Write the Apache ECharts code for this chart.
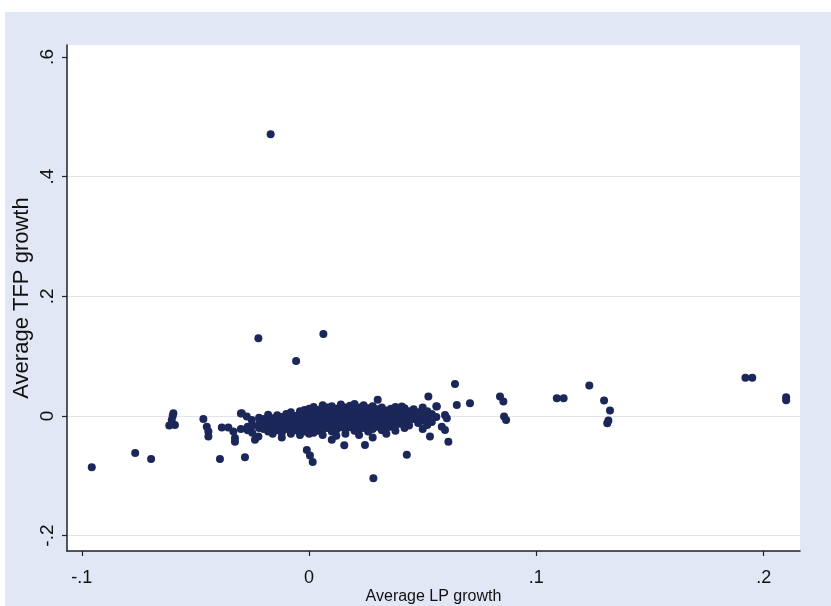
<!DOCTYPE html>
<html>
<head>
<meta charset="utf-8">
<script src="https://cdn.jsdelivr.net/npm/echarts@6/dist/echarts.min.js"></script>
<style>
  html, body { margin: 0; padding: 0; background: #ffffff; width: 831px; height: 606px; overflow: hidden; }
  #frame { position: absolute; left: 5px; top: 12px; width: 826px; height: 594px; background: #e2e7f5; }
  #chart { width: 826px; height: 594px; }
</style>
</head>
<body>
<div id="frame"><div id="chart"></div></div>
<script>
// Tick values
const xTicks = [-0.1, 0, 0.1, 0.2];
const yTicks = [-0.2, 0, 0.2, 0.4, 0.6];
const yGridLines = [-0.2, 0, 0.2, 0.4];

// Outlying / edge observations [LP growth, TFP growth]
const outerPoints = [
  [-0.0956,-0.086],[-0.0765,-0.062],[-0.0695,-0.072],
  [-0.0597,0.0045],[-0.0604,-0.0067],[-0.059,-0.015],[-0.0615,-0.016],[-0.060,0.000],
  [-0.0465,-0.005],[-0.045,-0.018],[-0.0443,-0.026],[-0.0443,-0.0346],
  [-0.0392,-0.072],[-0.0282,-0.069],
  [-0.0384,-0.0195],[-0.0355,-0.0195],[-0.0333,-0.026],[-0.0326,-0.037],[-0.0326,-0.043],
  [-0.0238,-0.040],[-0.0223,-0.0346],
  [-0.0296,0.0045],[-0.0274,-0.001],[-0.0252,-0.0067],
  [-0.001,-0.057],[0.0004,-0.066],[0.0016,-0.077],
  [0.010,-0.040],[0.0155,-0.049],[0.0246,-0.0485],[0.043,-0.065],[0.0283,-0.104],
  [0.0302,0.027],[0.0408,0.0156],[0.0436,-0.003],
  [0.0525,0.0323],[0.0562,0.0156],[0.0598,0.0017],[0.0606,-0.0039],[0.0584,-0.018],
  [0.0598,-0.0234],[0.0532,-0.0346],[0.0613,-0.043],
  [0.0642,0.0535],[0.065,0.0184],[0.0708,0.0212],
  [0.084,0.0323],[0.0855,0.024],[0.0858,-0.001],[0.0867,-0.0067],
  [0.109,0.0296],[0.112,0.0296],
  [0.1233,0.0507],[0.1298,0.0256],[0.1324,0.0089],[0.1317,-0.0078],[0.1312,-0.0122],
  [0.192,0.064],[0.195,0.064],
  [0.2099,0.031],[0.2099,0.026],
  [-0.0169,0.471],[-0.0223,0.13],[0.0063,0.137],[-0.0057,0.092]
];

// Dense central cluster [LP growth, TFP growth]
const clusterPoints = [
  [-0.030,0.004],[-0.030,-0.022],
  [-0.027,-0.018],[-0.027,-0.024],
  [-0.025,-0.016],[-0.025,-0.028],
  [-0.022,-0.003],[-0.022,-0.014],[-0.022,-0.020],
  [-0.020,-0.005],[-0.020,-0.012],[-0.020,-0.022],
  [-0.018,0.002],[-0.018,-0.010],[-0.018,-0.017],[-0.018,-0.026],
  [-0.016,-0.004],[-0.016,-0.013],[-0.016,-0.021],[-0.016,-0.030],
  [-0.014,0.001],[-0.014,-0.008],[-0.014,-0.016],[-0.014,-0.024],
  [-0.012,-0.002],[-0.012,-0.011],[-0.012,-0.019],[-0.012,-0.028],[-0.012,-0.036],
  [-0.010,0.003],[-0.010,-0.006],[-0.010,-0.014],[-0.010,-0.022],
  [-0.008,0.006],[-0.008,-0.003],[-0.008,-0.010],[-0.008,-0.018],[-0.008,-0.030],
  [-0.006,0.000],[-0.006,-0.008],[-0.006,-0.015],[-0.006,-0.024],
  [-0.004,0.008],[-0.004,0.002],[-0.004,-0.005],[-0.004,-0.012],[-0.004,-0.020],[-0.004,-0.032],
  [-0.002,0.010],[-0.002,0.004],[-0.002,-0.003],[-0.002,-0.009],[-0.002,-0.017],[-0.002,-0.026],
  [0.000,0.012],[0.000,0.005],[0.000,-0.001],[0.000,-0.007],[0.000,-0.014],[0.000,-0.022],[0.000,-0.030],
  [0.002,0.015],[0.002,0.008],[0.002,0.001],[0.002,-0.005],[0.002,-0.012],[0.002,-0.019],[0.002,-0.028],
  [0.004,0.010],[0.004,0.003],[0.004,-0.004],[0.004,-0.010],[0.004,-0.017],[0.004,-0.025],
  [0.006,0.018],[0.006,0.012],[0.006,0.005],[0.006,-0.002],[0.006,-0.008],[0.006,-0.015],[0.006,-0.022],[0.006,-0.032],
  [0.008,0.014],[0.008,0.007],[0.008,0.000],[0.008,-0.006],[0.008,-0.013],[0.008,-0.020],
  [0.010,0.016],[0.010,0.009],[0.010,0.002],[0.010,-0.004],[0.010,-0.011],[0.010,-0.018],[0.010,-0.026],
  [0.012,0.012],[0.012,0.005],[0.012,-0.001],[0.012,-0.008],[0.012,-0.015],[0.012,-0.023],[0.012,-0.033],
  [0.014,0.019],[0.014,0.010],[0.014,0.003],[0.014,-0.004],[0.014,-0.011],[0.014,-0.019],
  [0.016,0.014],[0.016,0.007],[0.016,0.000],[0.016,-0.007],[0.016,-0.014],[0.016,-0.022],[0.016,-0.030],
  [0.018,0.017],[0.018,0.009],[0.018,0.002],[0.018,-0.005],[0.018,-0.012],[0.018,-0.019],
  [0.020,0.020],[0.020,0.012],[0.020,0.004],[0.020,-0.003],[0.020,-0.010],[0.020,-0.017],[0.020,-0.025],
  [0.022,0.014],[0.022,0.006],[0.022,-0.001],[0.022,-0.008],[0.022,-0.015],[0.022,-0.022],[0.022,-0.032],
  [0.024,0.018],[0.024,0.009],[0.024,0.002],[0.024,-0.005],[0.024,-0.012],[0.024,-0.020],
  [0.026,0.013],[0.026,0.005],[0.026,-0.002],[0.026,-0.009],[0.026,-0.016],[0.026,-0.026],
  [0.028,0.016],[0.028,0.008],[0.028,0.001],[0.028,-0.006],[0.028,-0.013],[0.028,-0.022],[0.028,-0.036],
  [0.030,0.011],[0.030,0.004],[0.030,-0.003],[0.030,-0.010],[0.030,-0.018],
  [0.032,0.014],[0.032,0.006],[0.032,-0.001],[0.032,-0.008],[0.032,-0.015],[0.032,-0.024],
  [0.034,0.009],[0.034,0.002],[0.034,-0.005],[0.034,-0.012],[0.034,-0.020],[0.034,-0.030],
  [0.036,0.012],[0.036,0.004],[0.036,-0.003],[0.036,-0.010],[0.036,-0.018],
  [0.038,0.015],[0.038,0.007],[0.038,0.000],[0.038,-0.007],[0.038,-0.015],[0.038,-0.025],
  [0.040,0.010],[0.040,0.002],[0.040,-0.005],[0.040,-0.013],
  [0.042,0.013],[0.042,0.005],[0.042,-0.002],[0.042,-0.010],[0.042,-0.020],
  [0.044,0.008],[0.044,0.000],[0.044,-0.008],[0.044,-0.016],
  [0.046,0.011],[0.046,0.003],[0.046,-0.005],
  [0.048,0.006],[0.048,-0.002],[0.048,-0.012],
  [0.050,0.014],[0.050,0.002],[0.050,-0.008],[0.050,-0.022],
  [0.052,0.008],[0.052,-0.004],[0.052,-0.015],
  [0.054,0.003],[0.054,-0.010],
  [0.056,0.016],[0.056,-0.002]
];

const stataFmt = v => {
  if (Math.abs(v) < 1e-9) return '0';
  const s = String(Math.round(v * 10) / 10);
  return s.replace('0.', '.');
};

const FONT = 'Liberation Sans, Arial, sans-serif';
const chart = echarts.init(document.getElementById('chart'), null, { renderer: 'canvas' });
chart.setOption({
  animation: false,
  grid: {
    left: 62, top: 33, right: 31, bottom: 55,
    containLabel: false,
    outerBoundsMode: 'none',
    show: true, backgroundColor: '#ffffff', borderWidth: 0
  },
  xAxis: {
    type: 'value',
    min: -0.1065, max: 0.216,
    name: 'Average LP growth',
    nameLocation: 'middle',
    nameGap: 38,
    nameMoveOverlap: false,
    nameTextStyle: { fontFamily: FONT, fontSize: 16, color: '#111' },
    axisLine: { show: true, onZero: false, lineStyle: { color: '#222', width: 1.5 } },
    axisTick: { show: true, length: 5, customValues: xTicks, lineStyle: { color: '#222', width: 1.2 } },
    axisLabel: {
      customValues: xTicks, formatter: stataFmt, margin: 18,
      fontFamily: FONT, fontSize: 18, color: '#111', showMinLabel: true, showMaxLabel: true
    },
    splitLine: { show: false }
  },
  yAxis: {
    type: 'value',
    min: -0.2258, max: 0.62,
    name: 'Average TFP growth',
    nameLocation: 'middle',
    nameGap: 34,
    nameMoveOverlap: false,
    nameRotate: 90,
    nameTextStyle: { fontFamily: FONT, fontSize: 22, color: '#111' },
    axisLine: { show: true, onZero: false, lineStyle: { color: '#222', width: 1.5 } },
    axisTick: { show: true, length: 5, customValues: yTicks, lineStyle: { color: '#222', width: 1.2 } },
    axisLabel: {
      customValues: yTicks, formatter: stataFmt, rotate: 90, margin: 10,
      fontFamily: FONT, fontSize: 19, color: '#111', showMinLabel: true, showMaxLabel: true
    },
    splitLine: { show: false }
  },
  series: [{
    type: 'scatter',
    symbol: 'circle',
    symbolSize: 8,
    itemStyle: { color: '#1b2758', opacity: 1 },
    data: outerPoints.concat(clusterPoints),
    markLine: {
      silent: true,
      symbol: ['none', 'none'],
      label: { show: false },
      lineStyle: { color: '#e3e3e3', width: 1.2, type: 'solid' },
      data: yGridLines.map(v => ({ yAxis: v })),
      z: 0
    }
  }]
});
</script>
</body>
</html>
